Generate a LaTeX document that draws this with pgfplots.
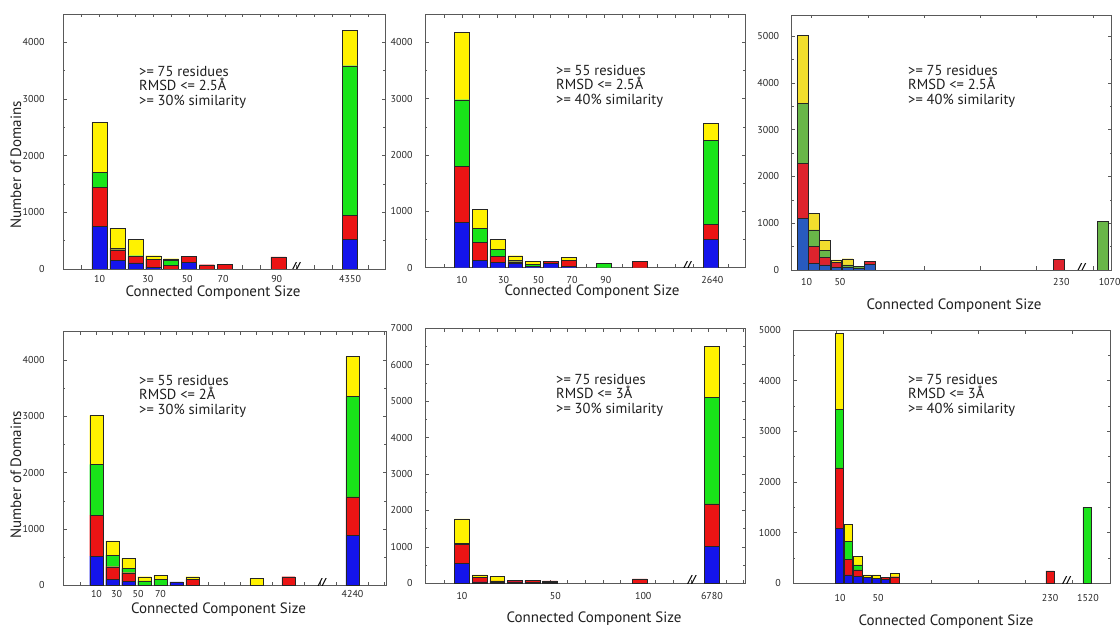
\documentclass[border=0pt]{standalone}
\usepackage{fontspec}
\setmainfont{PT Sans}
\newfontfamily\dvs{DejaVu Sans}
\usepackage{pgfplots}
\pgfplotsset{compat=1.18}
\usepackage{pgfplotstable}

\definecolor{cb}{RGB}{20,20,235}
\definecolor{cr}{RGB}{235,20,20}
\definecolor{cg}{RGB}{25,228,25}
\definecolor{cy}{RGB}{255,242,0}
\definecolor{mb}{RGB}{40,90,190}
\definecolor{mr}{RGB}{222,35,45}
\definecolor{mg}{RGB}{105,182,72}
\definecolor{my}{RGB}{242,222,45}

\pgfplotstableread{
x b r g y
1 753 694 259 882
2 150 190 30 353
3 106 114 15 283
4 35 141 0 59
5 0 59 88 35
6 118 106 0 0
7 0 76 0 0
8 0 88 0 0
11 0 212 0 0
15 518 429 2641 624
}\tA
\pgfplotstableread{
x b r g y
1 800 1000 1180 1190
2 136 308 254 337
3 90 117 118 184
4 77 29 30 77
5 20 0 40 58
6 80 32 0 0
7 20 116 0 53
9 0 0 80 0
11 0 110 0 0
15 503 272 1479 308
}\tB
\pgfplotstableread{
x b r g y
1 1104 1175 1282 1460
2 142 357 356 356
3 107 164 156 200
4 60 97 0 57
5 50 0 57 135
6 40 0 45 0
7 120 72 0 0
23.75 0 228 0 0
27.7 0 0 1047 0
}\tC
\pgfplotstableread{
x b r g y
1 519 726 902 868
2 106 224 207 253
3 65 159 76 178
4 0 0 80 73
5 0 0 106 71
6 59 0 0 0
7 0 110 0 43
11 0 0 0 124
13 0 153 0 0
17 891 678 1782 708
}\tD
\pgfplotstableread{
x b r g y
1 549 521 30 666
2 40 130 0 59
3 30 40 0 113
4 40 42 0 0
5 30 52 0 0
6 24 40 0 0
11.1 0 119 0 0
15.2 1006 1171 2928 1409
}\tE
\pgfplotstableread{
x b r g y
1 1088 1188 1154 1504
2 165 310 350 343
3 132 132 99 165
4 119 0 0 46
5 100 0 0 65
6 80 39 0 0
7 0 130 0 68
23.8 0 244 0 0
27.8 0 0 1497 0
}\tF

\newcommand{\stack}[5]{%
\addplot[fill=#2] table[x=x,y=b]{#1};
\addplot[fill=#3] table[x=x,y=r]{#1};
\addplot[fill=#4] table[x=x,y=g]{#1};
\addplot[fill=#5] table[x=x,y=y]{#1};}

\newcommand{\brk}[1]{\node[font=\dvs\bfseries\itshape\fontsize{11}{11}\selectfont, anchor=south, inner sep=0pt, text=black] at (axis cs:#1,-50) {//};}

\pgfplotsset{
  panel/.style={
    scale only axis, anchor=south west, ybar stacked, ymin=0,
    axis line style={black!65, line width=0.6pt},
    tick style={black!65, line width=0.5pt},
    major tick length=3.5pt, minor tick length=2pt,
    tick align=inside,
    minor y tick num=1,
    xticklabels={},
    /pgf/number format/assume math mode=true,
    /pgf/number format/1000 sep={},
    ticklabel style={font=\fontsize{10}{11}\selectfont, text=black!85},
    extra x tick style={major tick length=0pt},
    every axis plot/.append style={draw=black!85, line width=0.35pt},
  },
}

\begin{document}
\begin{tikzpicture}[every node/.style={text=black!88}]
\path[use as bounding box] (0pt,0pt) rectangle (1120pt,630pt);

% ---------- panel 1
\begin{axis}[panel, at={(63pt,361pt)}, width=322pt, height=255pt,
  xmin=-1.04, xmax=16.95, ymax=4500, bar width=0.84,
  xtick={0,...,16}, ytick={0,1000,...,4000},
  extra x ticks={1,3.7,5.9,7.9,10.9,15}, extra x tick labels={10,30,50,70,90,4350},
  xticklabel style={yshift=-3pt}, yticklabel style={xshift=-15pt}]
\stack{\tA}{cb}{cr}{cg}{cy}
\brk{12}
\end{axis}

% ---------- panel 2
\begin{axis}[panel, at={(425pt,362.3pt)}, width=320pt, height=253.7pt,
  xmin=-1.08, xmax=16.94, ymax=4500, bar width=0.84,
  xtick={0,...,16}, ytick={0,1000,...,4000},
  extra x ticks={1,3.35,5.3,7.2,9.1,15.1}, extra x tick labels={10,30,50,70,90,2640},
  xticklabel style={yshift=-5pt}, yticklabel style={xshift=-9pt}]
\stack{\tB}{cb}{cr}{cg}{cy}
\brk{13.7}
\end{axis}

% ---------- panel 3
\begin{axis}[panel, at={(791.7pt,360pt)}, width=320pt, height=255pt,
  xmin=0.04, xmax=28.48, ymax=5450, bar width=0.95,
  xtick={1.8,6.8,...,26.8}, ytick={0,1000,...,5000},
  extra x ticks={1.37,4.33,24,28.3}, extra x tick labels={10,50,230,1070},
  xticklabel style={yshift=-5pt}, yticklabel style={xshift=-9pt}]
\stack{\tC}{mb}{mr}{mg}{my}
\brk{25.8}
\end{axis}

% ---------- panel 4
\begin{axis}[panel, at={(63pt,44.7pt)}, width=323pt, height=253.6pt,
  xmin=-1.09, xmax=19.09, ymax=4500, bar width=0.84,
  xtick={0,...,19}, ytick={0,1000,...,4000},
  extra x ticks={1,2.26,3.6,5.0,17}, extra x tick labels={10,30,50,70,4240},
  xticklabel style={yshift=-2pt}, yticklabel style={xshift=-15pt}]
\stack{\tD}{cb}{cr}{cg}{cy}
\brk{15.1}
\end{axis}

% ---------- panel 5
\begin{axis}[panel, at={(425pt,46.7pt)}, width=320pt, height=255pt,
  xmin=-1.10, xmax=17.08, ymax=7000, bar width=0.84,
  xtick={0,...,17}, ytick={0,1000,...,7000},
  extra x ticks={1,6.3,11.3,15.2}, extra x tick labels={10,50,100,6780},
  xticklabel style={yshift=-6pt}, yticklabel style={xshift=-9pt}]
\stack{\tE}{cb}{cr}{cg}{cy}
\brk{14.07}
\end{axis}

% ---------- panel 6
\begin{axis}[panel, at={(793.3pt,46.7pt)}, width=316.7pt, height=253.3pt,
  xmin=-3.96, xmax=30.28, ymax=5000, bar width=0.9,
  xtick={0.7,5.8,10.9,16,21.1,26.2}, ytick={0,1000,...,5000},
  extra x ticks={1.1,5.2,23.8,27.9}, extra x tick labels={10,50,230,1520},
  xticklabel style={yshift=-8pt}, yticklabel style={xshift=-9pt}]
\stack{\tF}{cb}{cr}{cg}{cy}
\brk{25.6}
\end{axis}

% ---------- axis labels
\begin{scope}[every node/.append style={font=\fontsize{15}{17}\selectfont}]
\node at (213pt,337pt) {Connected Component Size};
\node at (592pt,338pt) {Connected Component Size};
\node at (954pt,324pt) {Connected Component Size};
\node at (218.5pt,20pt) {Connected Component Size};
\node at (594pt,11pt) {Connected Component Size};
\node at (946pt,8pt) {Connected Component Size};
\node[rotate=90] at (16pt,465pt) {Number of Domains};
\node[rotate=90] at (16pt,155pt) {Number of Domains};
\end{scope}

% ---------- annotations
\begin{scope}[every node/.append style={font=\fontsize{14.5}{16}\selectfont, anchor=base west, inner sep=0pt}]
\node at (139pt,553.5pt) {>= 75 residues};
\node at (139pt,539pt) {RMSD <= 2.5Å};
\node at (139pt,524.5pt) {>= 30\% similarity};
\node at (556pt,554.5pt) {>= 55 residues};
\node at (556pt,540pt) {RMSD <= 2.5Å};
\node at (556pt,525.5pt) {>= 40\% similarity};
\node at (908pt,554.5pt) {>= 75 residues};
\node at (908pt,540pt) {RMSD <= 2.5Å};
\node at (908pt,525.5pt) {>= 40\% similarity};
\node at (139pt,244.5pt) {>= 55 residues};
\node at (139pt,230pt) {RMSD <= 2Å};
\node at (139pt,215.5pt) {>= 30\% similarity};
\node at (556pt,245.5pt) {>= 75 residues};
\node at (556pt,231pt) {RMSD <= 3Å};
\node at (556pt,216.5pt) {>= 30\% similarity};
\node at (908pt,245.5pt) {>= 75 residues};
\node at (908pt,231pt) {RMSD <= 3Å};
\node at (908pt,216.5pt) {>= 40\% similarity};
\end{scope}
\end{tikzpicture}
\end{document}
